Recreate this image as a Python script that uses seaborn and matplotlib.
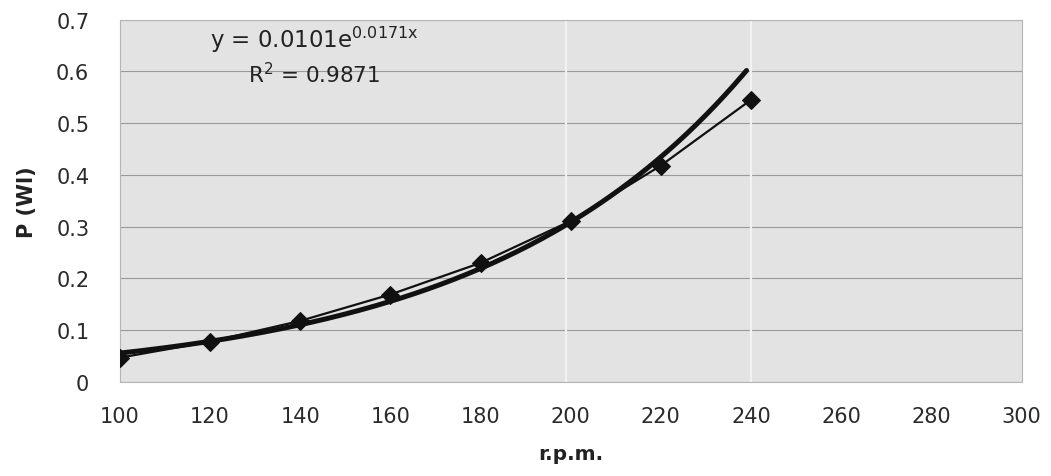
import numpy as np
import pandas as pd
import matplotlib
matplotlib.use("Agg")
import matplotlib.pyplot as plt
import seaborn as sns

# Measured power vs. rotational speed
rpm = [100, 120, 140, 160, 180, 200, 220, 240]
power = [0.047, 0.078, 0.118, 0.169, 0.230, 0.311, 0.418, 0.545]

# Exponential trendline coefficients: y = a * exp(b * x)
fit_a = 0.0101
fit_b = 0.0171
r_squared = 0.9871

x_ticks = [100, 120, 140, 160, 180, 200, 220, 240, 260, 280, 300]
y_ticks = [0, 0.1, 0.2, 0.3, 0.4, 0.5, 0.6, 0.7]

sns.set_theme(style="white")
plt.rcParams["font.family"] = ["DejaVu Sans"]
plt.rcParams["mathtext.fontset"] = "dejavusans"

fig = plt.figure(figsize=(10.51, 4.77), dpi=100)
ax = fig.add_axes([0.114, 0.197, 0.858, 0.76])
ax.set_facecolor("#e3e3e3")

# horizontal gridlines
for yv in y_ticks:
    ax.axhline(yv, color="#9a9a9a", lw=0.8, zorder=1)
# light streaks across the plot area
for xv in (199, 240):
    ax.axvline(xv, color="#f2f2f2", lw=1.6, zorder=1)

df = pd.DataFrame({"rpm": rpm, "power": power})
fit_x = np.linspace(min(rpm), max(rpm) - 1, 200)
fit_df = pd.DataFrame({"rpm": fit_x, "power": fit_a * np.exp(fit_b * fit_x)})

sns.lineplot(data=fit_df, x="rpm", y="power", ax=ax, color="#111111",
             lw=3.6, zorder=3)
sns.lineplot(data=df, x="rpm", y="power", ax=ax, color="#111111",
             lw=1.6, marker="D", markersize=9, markeredgecolor="#111111",
             zorder=4)

ax.set_xlim(100, 300)
ax.set_ylim(0, 0.7)
ax.set_xticks(x_ticks)
ax.set_yticks(y_ticks)
ax.set_xticklabels([str(v) for v in x_ticks])
ax.set_yticklabels(["0"] + [f"{v:.1f}" for v in y_ticks[1:]])
ax.tick_params(axis="both", labelsize=15, length=0, colors="#2a2a2a")
ax.tick_params(axis="x", pad=17)
ax.tick_params(axis="y", pad=22)

for s in ax.spines.values():
    s.set_color("#b5b5b5")
    s.set_linewidth(0.8)

ax.set_xlabel("r.p.m.", fontsize=14.5, fontweight="bold", labelpad=13,
              color="#222222")
ax.set_ylabel("P (Wl)", fontsize=15, fontweight="bold", labelpad=14,
              color="#222222")

ax.text(120, 0.662, f"y = {fit_a}e$^{{\\mathregular{{{fit_b}x}}}}$",
        fontsize=16.5, color="#222222", va="center")
ax.text(128.5, 0.596, f"R$^{{\\mathregular{{2}}}}$ = {r_squared}",
        fontsize=15.5, color="#222222", va="center")

fig.savefig("out.png", dpi=100)
